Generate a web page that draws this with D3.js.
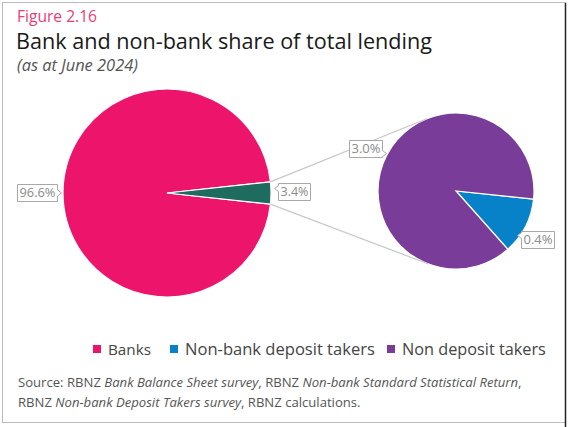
<!DOCTYPE html>
<html><head><meta charset="utf-8">
<script src="https://cdn.jsdelivr.net/npm/d3@7"></script>
<style>body{margin:0;background:#fff}svg{display:block}text{font-family:"Open Sans",Lato,sans-serif}</style>
</head><body>
<svg id="c" width="571" height="427"></svg>
<script>
const mainCategories = ["Banks", "Non-banks"];
const mainValues = [96.6, 3.4];
const mainLabels = ["96.6%", "3.4%"];
const subCategories = ["Non-bank deposit takers", "Non deposit takers"];
const subValues = [0.4, 3.0];
const subLabels = ["0.4%", "3.0%"];
const legendNames = ["Banks", "Non-bank deposit takers", "Non deposit takers"];
const colors = {"Banks":"#EC146B","Non-banks":"#1E6B5F","Non-bank deposit takers":"#0782C9","Non deposit takers":"#7A3C99"};

const svg = d3.select("#c");
function fit(sel, w){
  const cur = sel.node().getComputedTextLength();
  const fs = parseFloat(sel.attr("font-size"));
  sel.attr("font-size", (fs * w / cur).toFixed(2));
  return sel;
}
// frame
svg.append("rect").attr("x",2.5).attr("y",2.5).attr("width",563).attr("height",420).attr("fill","none").attr("stroke","#bbb");
svg.append("line").attr("x1",565.5).attr("x2",565.5).attr("y1",3).attr("y2",427).attr("stroke","#222").attr("stroke-width",1.5);

fit(svg.append("text").attr("x",17).attr("y",22).attr("fill","#EC3C78").attr("font-size",15).text("Figure 2.16"), 80);
fit(svg.append("text").attr("x",16).attr("y",48.5).attr("fill","#1a1a1a").attr("font-size",20).text("Bank and non-bank share of total lending"), 416);
fit(svg.append("text").attr("x",17).attr("y",70.5).attr("fill","#555").attr("font-size",13).attr("font-style","italic").text("(as at June 2024)"), 121);

// main pie
const c1 = [167, 193], r1 = 104;
const frac = mainValues[1] / d3.sum(mainValues);
const sa = Math.PI/2 + Math.PI*frac;
const pie1 = d3.pie().sort(null).startAngle(sa).endAngle(sa + 2*Math.PI);
const arc1 = d3.arc().innerRadius(0).outerRadius(r1);
const g1 = svg.append("g").attr("transform", `translate(${c1})`);
const a1 = pie1(mainValues);
g1.selectAll("path").data(a1).join("path").attr("d", arc1)
  .attr("fill", (d,i) => colors[mainCategories[i]]).attr("stroke","#fff").attr("stroke-width",1.2);

// secondary pie
const c2 = [456, 191], r2 = 78;
const sa2 = 96*Math.PI/180;
const pie2 = d3.pie().sort(null).startAngle(sa2).endAngle(sa2 + 2*Math.PI);
const arc2 = d3.arc().innerRadius(0).outerRadius(r2);
const g2 = svg.append("g").attr("transform", `translate(${c2})`);
const a2 = pie2(subValues);
g2.selectAll("path").data(a2).join("path").attr("d", arc2)
  .attr("fill", (d,i) => colors[subCategories[i]]).attr("stroke","#fff").attr("stroke-width",1.2);

// connector lines
function pt(c, r, a){ return [c[0] + r*Math.sin(a), c[1] - r*Math.cos(a)]; }
const nb = a1[1];
const pTop = pt(c1, r1, nb.startAngle), pBot = pt(c1, r1, nb.endAngle);
function tangent(P, upper){
  const dx = P[0]-c2[0], dy = P[1]-c2[1];
  const d = Math.hypot(dx,dy);
  const base = Math.atan2(dy,dx), off = Math.acos(r2/d);
  const ang = upper ? base + off : base - off;
  return [c2[0] + r2*Math.cos(ang), c2[1] + r2*Math.sin(ang)];
}
const tTop = tangent(pTop, true), tBot = tangent(pBot, false);
svg.append("line").attr("x1",pTop[0]).attr("y1",pTop[1]).attr("x2",tTop[0]).attr("y2",tTop[1]).attr("stroke","#c8c8c8").attr("stroke-width",1.2);
svg.append("line").attr("x1",pBot[0]).attr("y1",pBot[1]).attr("x2",tBot[0]).attr("y2",tBot[1]).attr("stroke","#c8c8c8").attr("stroke-width",1.2);

// callout labels
function callout(x, y, w, h, text, side, py){
  let p;
  if (side === "r") {
    p = `M${x},${y}H${x+w}V${y+py-3}L${x+4+w},${y+py}L${x+w},${y+py+3}V${y+h}H${x}Z`;
  } else {
    p = `M${x},${y}H${x+w}V${y+h}H${x}V${y+py+3}L${x-4},${y+py}L${x},${y+py-3}Z`;
  }
  svg.append("path").attr("d", p).attr("fill","#fff").attr("stroke","#a8a8a8").attr("stroke-width",1);
  const t = svg.append("text").attr("x", x + w/2).attr("y", y + h/2 + 4).attr("text-anchor","middle")
    .attr("fill","#8a8a8a").attr("font-size",11).text(text);
  fit(t, w - 4);
}
callout(17.5, 184.5, 40, 17, mainLabels[0], "r", 8.5);
callout(278.5, 183.5, 32, 17, mainLabels[1], "l", 5);
callout(349.5, 140.5, 33, 17, subLabels[1], "r", 13);
callout(521.5, 231.5, 33, 17, subLabels[0], "l", 4);

// legend
const legX = [93, 170, 387];
const legW = [43, 190, 144];
const lg = svg.append("g");
legendNames.forEach((n,i) => {
  lg.append("rect").attr("x", legX[i]).attr("y", 345).attr("width", 8).attr("height", 8).attr("fill", colors[n]);
  fit(lg.append("text").attr("x", legX[i] + 15).attr("y", 355).attr("font-size", 16).attr("fill","#444").text(n), legW[i]);
});

// source
const src = svg.append("g").attr("fill","#555");
const l1 = src.append("text").attr("x",18).attr("y",387).attr("font-size",11);
l1.append("tspan").text("Source: RBNZ ");
l1.append("tspan").attr("font-style","italic").text("Bank Balance Sheet survey");
l1.append("tspan").text(", RBNZ ");
l1.append("tspan").attr("font-style","italic").text("Non-bank Standard Statistical Return");
l1.append("tspan").text(",");
fit(l1, 504);
const l2 = src.append("text").attr("x",18).attr("y",407).attr("font-size", l1.attr("font-size"));
l2.append("tspan").text("RBNZ ");
l2.append("tspan").attr("font-style","italic").text("Non-bank Deposit Takers survey");
l2.append("tspan").text(", RBNZ calculations.");
</script>
</body></html>
